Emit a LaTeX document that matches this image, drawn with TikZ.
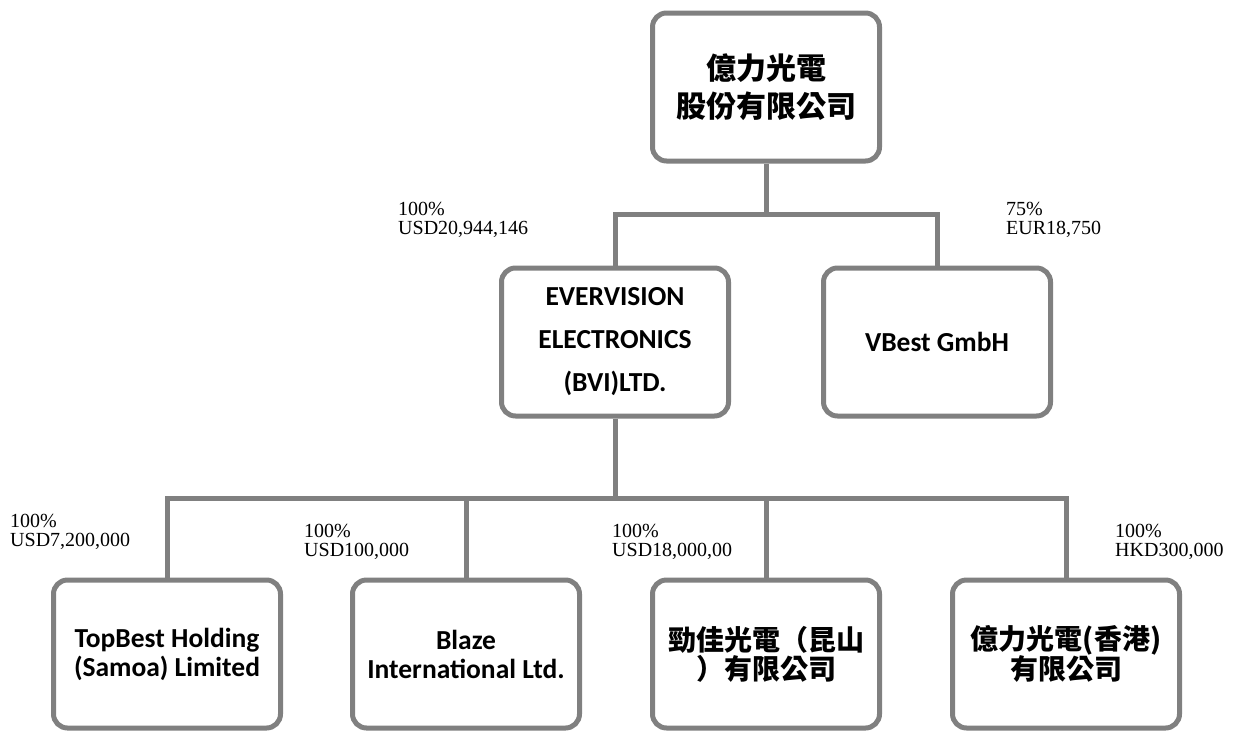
\documentclass[tikz,border=0pt]{standalone}
\usepackage{fontspec}
\setmainfont{Liberation Serif}
\newfontfamily\boxfont{Carlito}
\newfontfamily\cjk{Noto Sans CJK TC}
\usepackage{tikz}
\definecolor{linegray}{RGB}{128,128,128}

\begin{document}
\begin{tikzpicture}[x=1pt, y=-1pt,
    company/.style={draw=linegray, line width=5pt, rounded corners=14pt,
        minimum width=227pt, minimum height=148pt, align=center, inner sep=2pt},
    latin/.style={font=\boxfont\bfseries\fontsize{27.5}{#1}\selectfont},
    han/.style={font=\cjk\bfseries\fontsize{28}{#1}\selectfont},
    link/.style={draw=linegray, line width=5pt},
    share/.style={anchor=west, align=left, inner sep=0pt, font=\fontsize{20}{19}\selectfont}]
    \useasboundingbox (0,0) rectangle (1238,731);

    % 母公司
    \node[company, han=38, font=\cjk\bfseries\fontsize{30}{38}\selectfont] (parent) at (766,87) {億力光電\\股份有限公司};

    % 第二层
    \node[company, latin=43] (evv) at (615,342) {EVERVISION\\ELECTRONICS\\(BVI)LTD.};
    \node[company, latin=43] (vbest) at (937,342) {VBest GmbH};

    % 第三层
    \node[company, latin=29] (topbest) at (167,654) {TopBest Holding\\(Samoa) Limited};
    \node[company, latin=29] (blaze) at (466,654) {Blaze\\International Ltd.};
    \node[company, han=29] (kunshan) at (766,654) {勁佳光電（昆山\\）有限公司};
    \node[company, han=29] (hk) at (1066,654) {億力光電(香港)\\有限公司};

    % 连线
    \coordinate (j1) at (766,214);
    \coordinate (j2) at (615,498);
    \draw[link] (parent.south) -- (j1);
    \draw[link] (evv.north) |- (j1) -| (vbest.north);
    \draw[link] (evv.south) -- (j2);
    \draw[link] (topbest.north) |- (j2) -| (hk.north);
    \draw[link] (j2 -| blaze.north) -- (blaze.north);
    \draw[link] (j2 -| kunshan.north) -- (kunshan.north);

    % 持股比例
    \node[share] (s1) at (398,220) {100\%\\USD20,944,146};
    \node[share] (s2) at (1006,220) {75\%\\EUR18,750};
    \node[share] (s3) at (10,532) {100\%\\USD7,200,000};
    \node[share] (s4) at (304,542) {100\%\\USD100,000};
    \node[share] (s5) at (612,542) {100\%\\USD18,000,00};
    \node[share] (s6) at (1115,542) {100\%\\HKD300,000};
\end{tikzpicture}
\end{document}
